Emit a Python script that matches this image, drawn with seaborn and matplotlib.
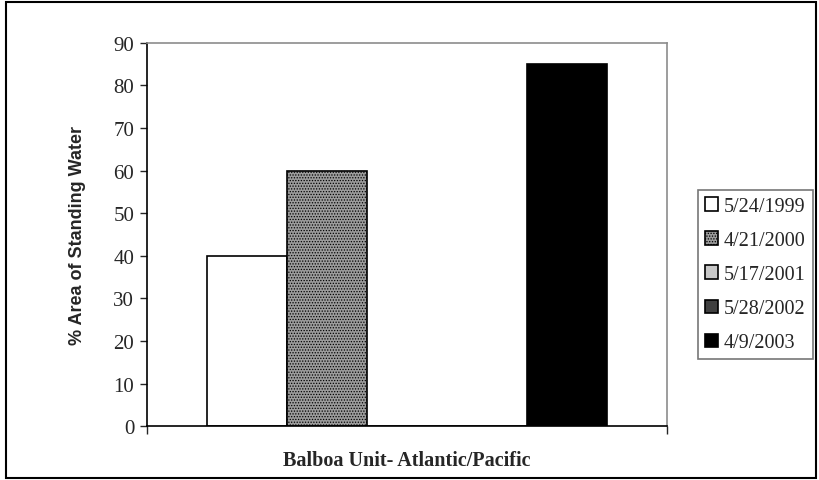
import pandas as pd
import seaborn as sns
import matplotlib.pyplot as plt
from matplotlib.patches import Rectangle

site = ["Balboa Unit- Atlantic/Pacific"]
dates = ["5/24/1999", "4/21/2000", "5/17/2001", "5/28/2002", "4/9/2003"]
standing_water = [40, 60, 0, 0, 85]

colors = ["white", "#9c9c9c", "#c8c8c8", "#404040", "black"]
hatches = ["", "......", "", "", ""]

data = pd.DataFrame({
    "site": site * len(dates),
    "date": dates,
    "pct": standing_water,
})

sns.set_style("white")
plt.rcParams["font.family"] = ["Liberation Serif", "DejaVu Serif"]
plt.rcParams["hatch.linewidth"] = 0.6

fig = plt.figure(figsize=(8.2, 4.81), dpi=100)
ax = fig.add_axes([0.179, 0.112, 0.634, 0.797])

sns.barplot(data=data, x="site", y="pct", hue="date", hue_order=dates,
            palette=colors, width=0.77, edgecolor="black", linewidth=1.2,
            saturation=1, ax=ax, legend=True)

for bars, h in zip(ax.containers, hatches):
    for b in bars:
        b.set_hatch(h)

ax.set_ylim(0, 90)
ax.set_xlim(-0.5, 0.5)
ax.set_yticks(range(0, 91, 10))
ax.tick_params(axis="y", direction="out", length=5, width=1, labelsize=15,
               left=True, pad=4)
ax.set_xticks([-0.5, 0.5])
ax.set_xticklabels(["", ""])
ax.tick_params(axis="x", direction="out", length=6, width=1, bottom=True)

for s in ["top", "right"]:
    ax.spines[s].set_color("#8c8c8c")
    ax.spines[s].set_linewidth(1.2)
for s in ["left", "bottom"]:
    ax.spines[s].set_color("black")
    ax.spines[s].set_linewidth(1.2)

ax.set_xlabel("Balboa Unit- Atlantic/Pacific", fontsize=14.5, fontweight="bold",
              labelpad=8)
ax.set_ylabel("% Area of Standing Water", fontsize=13, fontweight="bold",
              family="Liberation Sans", labelpad=20)

leg = ax.legend(loc="upper left", bbox_to_anchor=(0.851, 0.603),
                bbox_transform=fig.transFigure, frameon=True, fancybox=False,
                fontsize=14.5, handlelength=0.65, handleheight=0.65,
                handletextpad=0.3, labelspacing=0.75, borderpad=0.35,
                borderaxespad=0)
leg.get_frame().set_edgecolor("#555555")
leg.get_frame().set_linewidth(1.2)
for patch, h in zip(leg.get_patches(), hatches):
    patch.set_hatch(h)
    patch.set_edgecolor("black")

fig.patches.append(Rectangle((6 / 820, 2 / 481), 810 / 820, 476 / 481,
                             transform=fig.transFigure, fill=False,
                             edgecolor="black", linewidth=1.5))

fig.savefig("out.png", dpi=100)
